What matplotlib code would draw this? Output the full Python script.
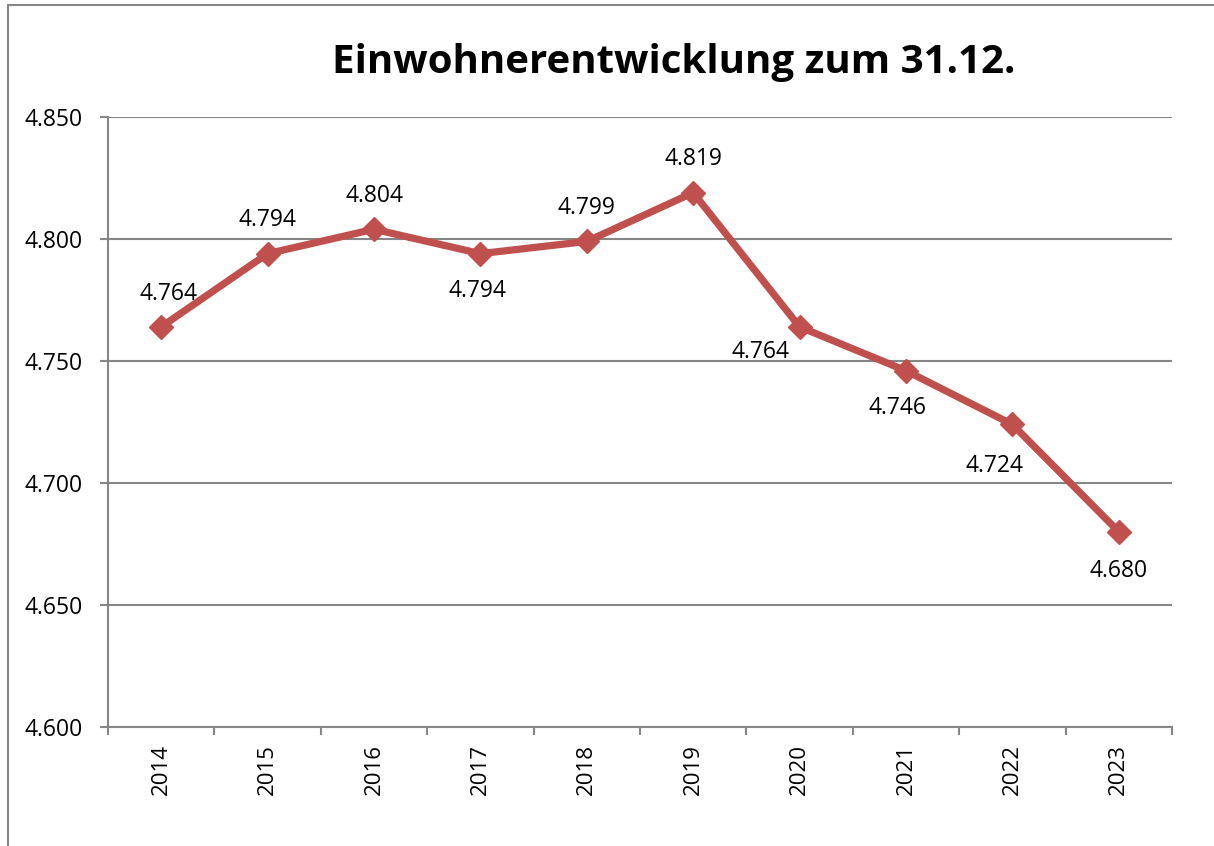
import matplotlib.pyplot as plt
from matplotlib.patches import Rectangle
from matplotlib.ticker import FuncFormatter

years = ['2014', '2015', '2016', '2017', '2018', '2019', '2020', '2021', '2022', '2023']
einwohner = [4764, 4794, 4804, 4794, 4799, 4819, 4764, 4746, 4724, 4680]

# label offsets in points (dx, dy)
label_offsets = [(5, 24), (0, 24), (0, 24), (-2, -27), (0, 24), (0, 24),
                 (-28, -18), (-6, -27), (-13, -30), (0, -28)]

def fmt(v, pos=None):
    return f'{v:,.0f}'.replace(',', '.')

plt.rcParams['font.family'] = ['Open Sans', 'DejaVu Sans']

fig = plt.figure(figsize=(12.14, 8.46), dpi=100)
ax = fig.add_axes([108/1214, 1-727/846, (1172-108)/1214, (727-117)/846])

grey = '#868686'
red = '#C0504D'

x = list(range(len(years)))
ax.plot(x, einwohner, color=red, linewidth=5.2, marker='D', markersize=12,
        markeredgecolor=red, markerfacecolor=red, zorder=3, clip_on=False)

for xi, v, (dx, dy) in zip(x, einwohner, label_offsets):
    ax.annotate(fmt(v), (xi, v), xytext=(dx, dy), textcoords='offset points',
                ha='center', va='center', fontsize=16.5, color='black')

ax.set_xlim(-0.5, len(years) - 0.5)
ax.set_ylim(4600, 4850)
ax.set_yticks([4600, 4650, 4700, 4750, 4800, 4850])
ax.yaxis.set_major_formatter(FuncFormatter(fmt))
ax.grid(axis='y', color=grey, linewidth=1.5)
ax.set_axisbelow(True)

ax.set_xticks(x)
ax.set_xticklabels(years, rotation=90, fontsize=16)
ax.set_xticks([i + 0.5 for i in range(-1, len(years))], minor=True)
ax.tick_params(axis='x', which='major', length=0, pad=12)
ax.tick_params(axis='x', which='minor', length=6, width=1.5, color=grey, direction='out')
ax.tick_params(axis='y', length=6, width=1.5, color=grey, labelsize=16.5, pad=12)

for s in ['top', 'right']:
    ax.spines[s].set_visible(False)
for s in ['left', 'bottom']:
    ax.spines[s].set_color(grey)
    ax.spines[s].set_linewidth(1.5)

fig.text(674/1214, 1-62/846, 'Einwohnerentwicklung zum 31.12.', ha='center', va='center',
         fontsize=29, fontweight='bold')

# outer chart frame
fig.patches.append(Rectangle((8/1214, -0.5), 2, 1.5 - 5/846, transform=fig.transFigure,
                             fill=False, edgecolor=grey, linewidth=1.5))

fig.savefig('out.png', dpi=100)
